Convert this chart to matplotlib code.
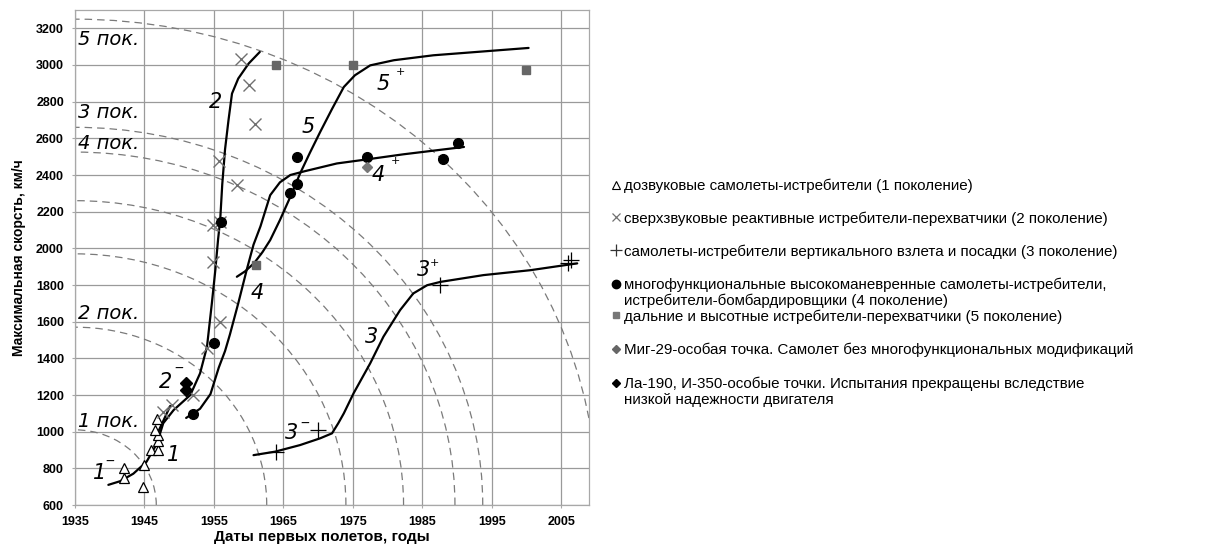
import matplotlib
matplotlib.use('Agg')
import matplotlib.pyplot as plt
from matplotlib.patches import Arc
from matplotlib.lines import Line2D

plt.rcParams['font.family'] = ['Liberation Sans', 'DejaVu Sans']

# --- точки (годы первых полетов, макс. скорость км/ч) ---
gen1_year = [1942, 1942, 1944.8, 1945, 1946, 1947, 1947, 1947, 1946.5, 1946.8]
gen1_speed = [800, 750, 700, 820, 900, 900, 950, 980, 1010, 1070]

gen2_year = [1947.7, 1948.9, 1952, 1954, 1955.9, 1954.9, 1954.9, 1955.9, 1958.3, 1955.8, 1960.9, 1960, 1958.9]
gen2_speed = [1110, 1145, 1200, 1455, 1600, 1925, 2125, 2145, 2345, 2475, 2680, 2890, 3030]

gen3_year = [1964, 1970, 1987.5, 2006, 2006.4]
gen3_speed = [890, 1010, 1800, 1920, 1935]

gen4_year = [1952, 1955, 1956, 1966, 1967, 1967, 1977, 1988, 1990.2]
gen4_speed = [1095, 1485, 2145, 2300, 2350, 2500, 2500, 2490, 2575]

gen5_year = [1961, 1964, 1975, 2000]
gen5_speed = [1910, 3000, 3000, 2970]

mig29_year = [1977]
mig29_speed = [2445]

la190_year = [1951, 1951]
la190_speed = [1268, 1228]

# --- кривые развития ---
curve12_year = [1939.8, 1941.5, 1943.4, 1945.3, 1946.8, 1947.7, 1949.2, 1951.6, 1953, 1954,
                1954.7, 1955.2, 1955.6, 1955.9, 1956.2, 1956.6, 1957.1, 1957.6, 1958.5, 1960, 1961.6]
curve12_speed = [710, 730, 771, 836, 936, 1046, 1118, 1200, 1318, 1463,
                 1700, 1881, 2050, 2154, 2350, 2540, 2700, 2844, 2926, 3008, 3071]

tick2_year = [1946.8, 1948.7]
tick2_speed = [985, 1140]

curve4_year = [1951, 1953, 1954.5, 1955.7, 1956.6, 1957.3, 1958.5, 1959.7, 1960.7, 1961.7,
               1963.1, 1964.5, 1966, 1968, 1972.7, 1977, 1982.3, 1991]
curve4_speed = [1075, 1125, 1205, 1350, 1440, 1530, 1700, 1880, 2020, 2120,
                2290, 2360, 2400, 2420, 2463, 2485, 2513, 2553]

curve5_year = [1958.3, 1959.5, 1960.8, 1962, 1963.1, 1964.5, 1966, 1967.4, 1968.8, 1970.3,
               1972, 1973.7, 1975.3, 1977.5, 1980.9, 1986.6, 2000.3]
curve5_speed = [1845, 1875, 1920, 1980, 2045, 2154, 2281, 2408, 2520, 2635,
                2760, 2880, 2944, 2998, 3026, 3053, 3093]

curve3_year = [1960.7, 1963.8, 1967.4, 1970.3, 1972, 1972.9, 1973.7, 1975.1, 1977.5, 1979.4,
               1981.8, 1983.7, 1985.7, 1987.6, 1993.8, 2000.6, 2007.3]
curve3_speed = [872, 891, 927, 964, 991, 1046, 1100, 1209, 1373, 1518,
                1663, 1754, 1799, 1817, 1854, 1881, 1918]

# --- границы поколений: четверти эллипсов с центром (1935, 600) ---
arc_half_years = [11.7, 27.6, 39, 47.3, 54.7, 58.7, 75.2]
arc_half_speed = [410, 970, 1370, 1660, 1925, 2060, 2650]

gen_labels = ['1 пок.', '2 пок.', '4 пок.', '3 пок.', '5 пок.']
gen_label_speed = [1053, 1647, 2573, 2742, 3138]

# подписи кривых: (текст, год, скорость, индекс, год индекса, скорость индекса)
curve_labels = [
    ('2', 1955.3, 2800, '', 0, 0),
    ('5', 1968.6, 2660, '', 0, 0),
    ('5', 1979.4, 2899, '+', 1981.8, 2962),
    ('4', 1978.7, 2399, '+', 1981.2, 2475),
    ('4', 1961.2, 1754, '', 0, 0),
    ('3', 1985.2, 1881, '+', 1986.7, 1918),
    ('3', 1977.7, 1518, '', 0, 0),
    ('3', 1966.2, 991, '‒', 1968.1, 1042),
    ('2', 1948.0, 1273, '‒', 1950.0, 1345),
    ('1', 1949.2, 873, '', 0, 0),
    ('1', 1938.6, 773, '‒', 1940.0, 836),
]

legend_labels = [
    'дозвуковые самолеты-истребители (1 поколение)',
    'сверхзвуковые реактивные истребители-перехватчики (2 поколение)',
    'самолеты-истребители вертикального взлета и посадки (3 поколение)',
    'многофункциональные высокоманевренные самолеты-истребители,\nистребители-бомбардировщики (4 поколение)',
    'дальние и высотные истребители-перехватчики (5 поколение)',
    'Миг-29-особая точка. Самолет без многофункциональных модификаций',
    'Ла-190, И-350-особые точки. Испытания прекращены вследствие\nнизкой надежности двигателя',
]

fig = plt.figure(figsize=(12.06, 5.49), dpi=100)
ax = fig.add_axes([0.0622, 0.0801, 0.4262, 0.9017])

ax.set_xlim(1935, 2009)
ax.set_ylim(600, 3300)
ax.set_xticks(range(1935, 2006, 10))
ax.set_yticks(range(600, 3201, 200))
ax.grid(True, color='#9a9a9a', linewidth=0.9)
ax.set_axisbelow(True)
for s in ax.spines.values():
    s.set_color('#a8a8a8')
    s.set_linewidth(0.9)
ax.tick_params(length=2, color='#a8a8a8', pad=6, labelsize=9)
for lab in ax.get_xticklabels() + ax.get_yticklabels():
    lab.set_fontweight('bold')
ax.set_xlabel('Даты первых полетов, годы', fontsize=11, fontweight='bold', labelpad=1)
ax.xaxis.label.set_x(0.48)
ax.set_ylabel('Максимальная скорсть, км/ч', fontsize=10, fontweight='bold', labelpad=7)

for a, b in zip(arc_half_years, arc_half_speed):
    ax.add_patch(Arc((1935, 600), 2 * a, 2 * b, theta1=0, theta2=90,
                     color='#7a7a7a', lw=0.9, ls=(0, (6, 4))))

for xs, ys in [(curve12_year, curve12_speed), (tick2_year, tick2_speed),
               (curve4_year, curve4_speed), (curve5_year, curve5_speed),
               (curve3_year, curve3_speed)]:
    ax.plot(xs, ys, color='black', lw=1.6, solid_capstyle='round', solid_joinstyle='round')

ax.plot(gen1_year, gen1_speed, ls='none', marker='^', ms=7, mfc='white', mec='black', mew=0.9)
ax.plot(gen2_year, gen2_speed, ls='none', marker='x', ms=8, color='#707070', mew=1.0)
ax.plot(gen3_year, gen3_speed, ls='none', marker='+', ms=11, color='black', mew=0.9)
ax.plot(gen4_year, gen4_speed, ls='none', marker='o', ms=7, color='black')
ax.plot(gen5_year, gen5_speed, ls='none', marker='s', ms=6, color='#666666')
ax.plot(mig29_year, mig29_speed, ls='none', marker='D', ms=5, color='#777777')
ax.plot(la190_year, la190_speed, ls='none', marker='D', ms=6, color='black')

hand = dict(family=['Liberation Sans Narrow', 'DejaVu Sans'], style='italic', color='black')
for txt, sp in zip(gen_labels, gen_label_speed):
    ax.text(1935.5, sp, txt, fontsize=14, va='center', ha='left', **hand)
for txt, x, y, sup, sx, sy in curve_labels:
    ax.text(x, y, txt, fontsize=15, va='center', ha='center', **hand)
    if sup:
        ax.text(sx, sy, sup, fontsize=10 if sup != '+' else 8, va='center', ha='center', **hand)

handles = [
    Line2D([], [], ls='none', marker='^', ms=6, mfc='white', mec='black', mew=0.8),
    Line2D([], [], ls='none', marker='x', ms=6, color='#707070', mew=0.9),
    Line2D([], [], ls='none', marker='+', ms=8, color='#333333', mew=0.9),
    Line2D([], [], ls='none', marker='o', ms=6, color='black'),
    Line2D([], [], ls='none', marker='s', ms=5, color='#777777'),
    Line2D([], [], ls='none', marker='D', ms=4, color='#666666'),
    Line2D([], [], ls='none', marker='D', ms=4, color='black'),
]
common = dict(loc='upper left', bbox_transform=fig.transFigure, frameon=False,
              fontsize=10.9, handlelength=0.6, handletextpad=0.25,
              borderpad=0, borderaxespad=0, labelcolor='black')
leg1 = fig.legend(handles[:4], legend_labels[:4], bbox_to_anchor=(0.5066, 0.675),
                  labelspacing=1.22, **common)
leg2 = fig.legend(handles[4:], legend_labels[4:], bbox_to_anchor=(0.5066, 0.437),
                  labelspacing=1.28, **common)

# маркер двухстрочной записи ставим на уровень первой строки
for leg, idx in [(leg1, 3), (leg2, 2)]:
    h = leg.legend_handles[idx]
    h.set_ydata([y + 6.5 for y in h.get_ydata()])

fig.savefig('out.png', dpi=100)
